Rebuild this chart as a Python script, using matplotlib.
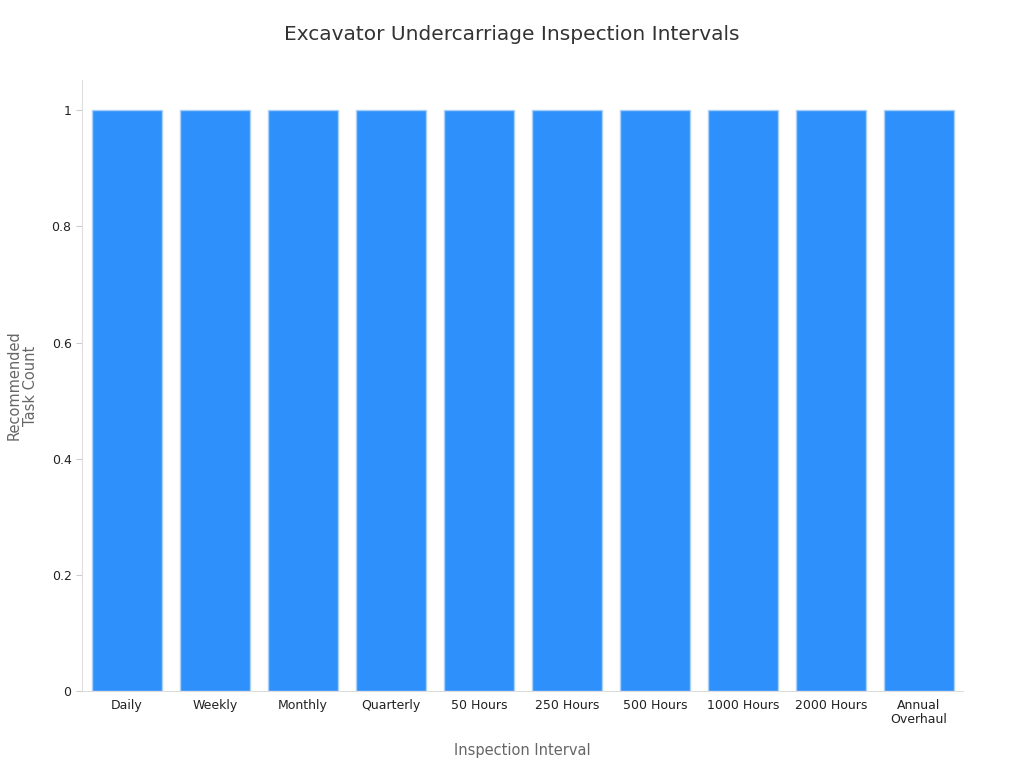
import matplotlib.pyplot as plt
from matplotlib.ticker import FuncFormatter

# Inspection intervals and task counts
intervals = ["Daily", "Weekly", "Monthly", "Quarterly", "50 Hours", "250 Hours",
             "500 Hours", "1000 Hours", "2000 Hours", "Annual\nOverhaul"]
task_counts = [1, 1, 1, 1, 1, 1, 1, 1, 1, 1]

fig = plt.figure(figsize=(10.24, 7.68), dpi=100)
ax = fig.add_axes([82 / 1024, 1 - 691 / 768, (963 - 82) / 1024, (691 - 80) / 768])

x = range(len(intervals))
ax.bar(x, task_counts, width=0.8, color="#2E90FA", edgecolor="#A9CFF9", linewidth=1)

ax.set_xlim(-0.51, 9.5)
ax.set_ylim(0, 1.052)
ax.set_xticks(list(x))
ax.set_xticklabels(intervals, fontsize=9, color="#222222", linespacing=1.1)
ax.set_yticks([0, 0.2, 0.4, 0.6, 0.8, 1])
ax.yaxis.set_major_formatter(FuncFormatter(lambda v, p: f"{v:g}"))
ax.tick_params(axis="y", labelsize=9, colors="#222222", length=4, color="#cccccc")
ax.tick_params(axis="x", length=0, pad=6)

for s in ["top", "right"]:
    ax.spines[s].set_visible(False)
for s in ["left", "bottom"]:
    ax.spines[s].set_color("#dddddd")

ax.set_xlabel("Inspection Interval", fontsize=10.5, color="#666666", labelpad=12)
ax.set_ylabel("Recommended\nTask Count", fontsize=10.5, color="#666666", labelpad=10,
              linespacing=1.1)
fig.suptitle("Excavator Undercarriage Inspection Intervals", fontsize=14.5, color="#333333", y=0.968)

fig.savefig("out.png", dpi=100)
